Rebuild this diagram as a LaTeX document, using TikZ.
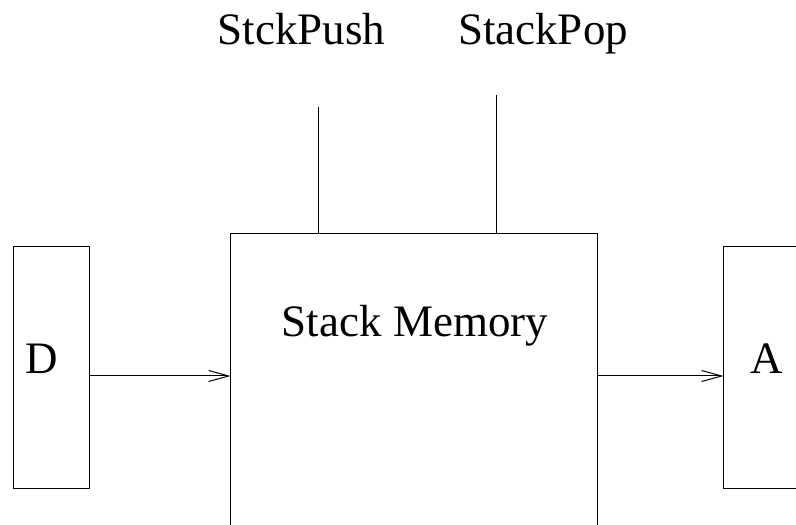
\documentclass[tikz,border=0pt]{standalone}
\usepackage{fontspec}
\setmainfont{Liberation Serif}
\newfontfamily\figfont{Liberation Serif}
\usetikzlibrary{positioning}
\usetikzlibrary{arrows.meta}

\begin{document}
\begin{tikzpicture}[x=0.5pt,y=0.5pt,line width=0.5pt,
      every node/.style={font=\figfont\fontsize{22.5}{27}\selectfont},
      lbl/.style={inner sep=0pt,anchor=base},
      blk/.style={inner sep=0pt},
      sig/.style={-{Straight Barb[length=10pt,width=5.5pt]}}]
    \useasboundingbox (0,0) rectangle (796,524);
    % boxes
    \node[blk,draw,minimum width=38pt,minimum height=120.5pt] (d) at (51,156.5) {};
    \node[blk,minimum width=183pt,minimum height=145pt] (mem) at (414,145) {};
    \node[blk,minimum width=36pt,minimum height=120.5pt] (a) at (760,156.5) {};
    \draw (mem.south west) |- (mem.north east) -- (mem.south east);
    \draw (a.north east) -| (a.south west) -- (a.south east);
    % texts
    \node[lbl] (dtxt) at (42,150) {D};
    \node[lbl] (atxt) at (767,150) {A};
    \node[lbl] (memtxt) at (415,187) {Stack Memory};
    \node[lbl] (push) at (301.5,479) {StckPush};
    \node[lbl] (pop) at (543,479) {StackPop};
    % control lines
    \coordinate (pushend) at (318,417);
    \coordinate (popend) at (496,429);
    \draw (pushend) -- (pushend |- mem.north);
    \draw (popend) -- (popend |- mem.north);
    % data path
    \coordinate (bus) at (0,148);
    \draw[sig] (d.east |- bus) -- (mem.west |- bus);
    \draw[sig] (mem.east |- bus) -- (a.west |- bus);
  \end{tikzpicture}
\end{document}
